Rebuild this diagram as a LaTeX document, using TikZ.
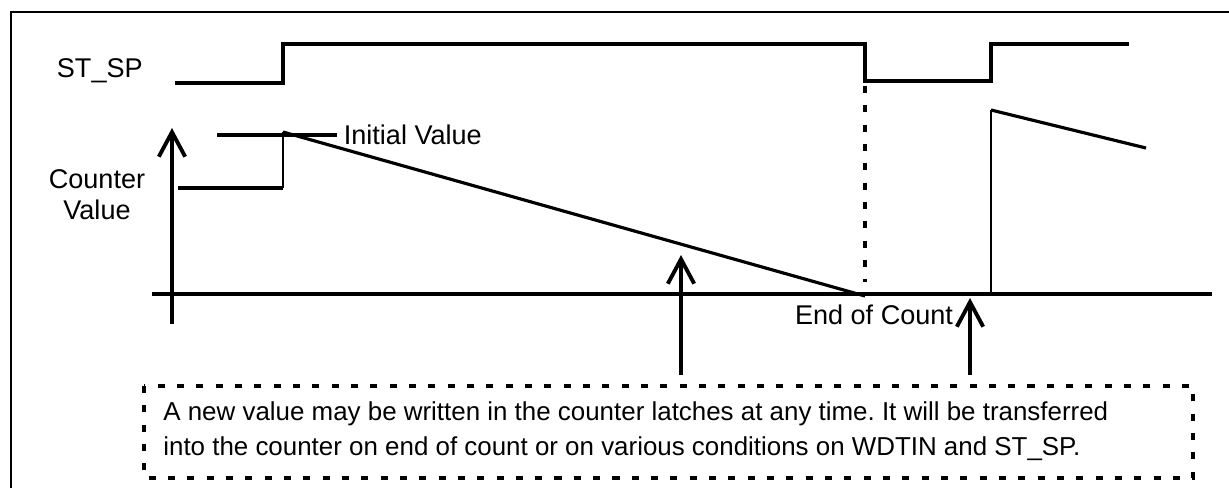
\documentclass[tikz,border=0pt]{standalone}
\usepackage{fontspec}
\setmainfont{Liberation Sans}
\usetikzlibrary{arrows.meta,positioning}

\begin{document}
\frenchspacing
\begin{tikzpicture}[x=0.02cm, y=-0.02cm,
        wave/.style={line width=1.8pt},
        thinwave/.style={line width=1.1pt},
        marker/.style={line width=2.2pt, -{Straight Barb[length=14pt,width=15pt]}},
        dotline/.style={line width=2.2pt, dash pattern=on 4pt off 7pt},
        txt/.style={font=\fontsize{15.4}{17}\selectfont, inner sep=0pt}]
    \useasboundingbox (0,0) rectangle (1229,488);
    \draw[line width=1.2pt] (11,488) -- (11,12) -- (1229,12);
    % signal names
    \node[txt, anchor=east] (stsp) at (143,71) {ST\_SP};
    \node[txt, align=center, font=\fontsize{15.4}{17.5}\selectfont] (cval) at (97,195) {Counter\\Value};
    % ST_SP waveform
    \draw[wave] (175,83) -| (283,44) -| (865,81) -| (991,44) -- (1129,44);
    % counter waveform
    \draw[wave] (152,294) -- (1212,294);
    \draw[wave] (178,188) -- (283,188);
    \draw[thinwave] (283,188) -- (283,132);
    \draw[wave] (283,132) -- (865,296);
    \draw[wave] (217,135) -- (337,135) node[txt, right=3pt] (init) {Initial Value};
    \draw[thinwave] (991,294) -- (991,110);
    \draw[wave] (991,110) -- (1146,148);
    \draw[dotline] (865,86) -- (865,282);
    \node[txt] (eoc) at (874,315) {End of Count};
    % reload arrows
    \coordinate (a1) at (172,324);
    \coordinate (a2) at (681,375);
    \coordinate (a3) at (970,375);
    \draw[marker] (a1) -- (172,128);
    \draw[marker] (a2) -- (681,255);
    \draw[marker] (a3) -- (970,298);
    % note
    \draw[dotline] (144,386) rectangle (1193,478);
    \node[txt, font=\fontsize{14.75}{19.8}\selectfont, align=left, anchor=west] (note) at (163,431)
        {A new value may be written in the counter latches at any time. It will be transferred\\
         into the counter on end of count or on various conditions on WDTIN and ST\_SP.};
\end{tikzpicture}
\end{document}
